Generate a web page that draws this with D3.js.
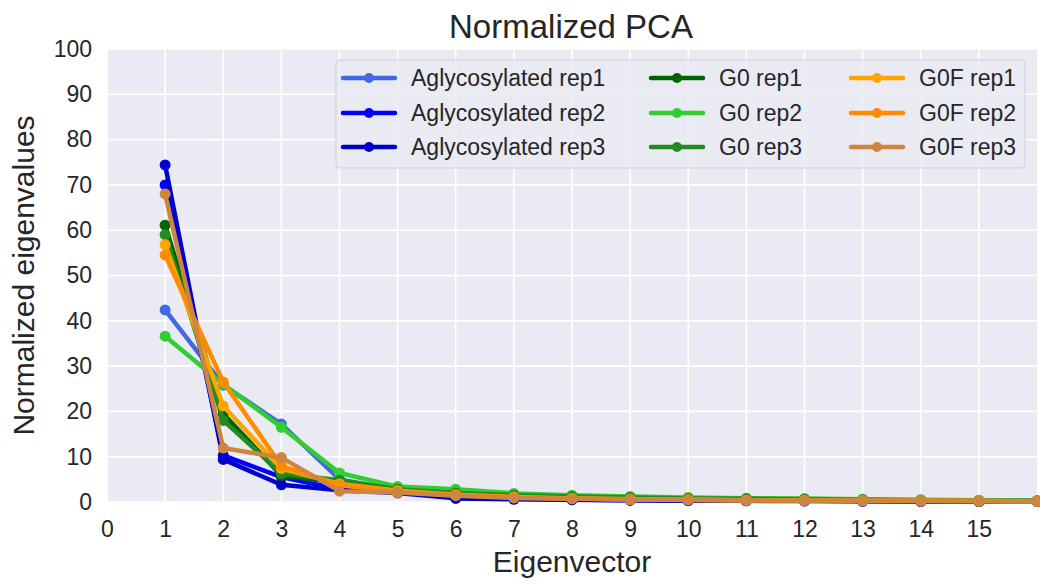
<!DOCTYPE html>
<html lang="en">
  <head>
    <meta charset="UTF-8" />
    <title>Normalized PCA</title>
    <style>
      html, body { margin: 0; padding: 0; background: #fff; }
      text { font-family: "Liberation Sans", Arial, sans-serif; fill: #262626; }
    </style>
  </head>
  <body>
    <svg id="chart" width="1040" height="586"></svg>
    <script src="https://d3js.org/d3.v7.min.js"></script>
    <script>
      // eigenvector index
      const eigenvectors = [1, 2, 3, 4, 5, 6, 7, 8, 9, 10, 11, 12, 13, 14, 15, 16];

      const aglyRep1 = [42.4, 25.8, 17.2, 5.0, 2.6, 1.6, 1.0, 0.8, 0.6, 0.5, 0.4, 0.35, 0.3, 0.25, 0.2, 0.15];
      const aglyRep2 = [70.0, 10.3, 5.5, 2.8, 2.2, 1.0, 0.7, 0.5, 0.4, 0.35, 0.3, 0.25, 0.2, 0.15, 0.1, 0.1];
      const aglyRep3 = [74.4, 9.4, 3.8, 2.6, 2.0, 0.8, 0.6, 0.5, 0.4, 0.3, 0.25, 0.2, 0.15, 0.1, 0.1, 0.1];
      const g0Rep1 = [61.1, 19.5, 5.8, 4.3, 2.6, 1.8, 1.2, 1.0, 0.8, 0.7, 0.6, 0.5, 0.4, 0.35, 0.3, 0.2];
      const g0Rep2 = [36.6, 26.0, 16.5, 6.4, 3.4, 2.8, 1.9, 1.5, 1.2, 1.0, 0.85, 0.75, 0.6, 0.5, 0.4, 0.3];
      const g0Rep3 = [59.0, 18.0, 6.3, 4.8, 2.8, 2.0, 1.5, 1.2, 1.0, 0.8, 0.7, 0.6, 0.5, 0.4, 0.3, 0.25];
      const g0fRep1 = [56.8, 21.2, 7.4, 4.0, 2.5, 1.6, 1.1, 0.8, 0.6, 0.5, 0.4, 0.35, 0.3, 0.25, 0.2, 0.15];
      const g0fRep2 = [54.5, 26.5, 8.0, 3.7, 2.3, 1.5, 1.0, 0.8, 0.6, 0.5, 0.4, 0.35, 0.3, 0.25, 0.2, 0.15];
      const g0fRep3 = [68.0, 11.9, 9.8, 2.4, 2.1, 1.4, 0.9, 0.7, 0.55, 0.45, 0.4, 0.3, 0.25, 0.2, 0.2, 0.15];

      const seriesNames = [
        "Aglycosylated rep1", "Aglycosylated rep2", "Aglycosylated rep3",
        "G0 rep1", "G0 rep2", "G0 rep3",
        "G0F rep1", "G0F rep2", "G0F rep3",
      ];
      const seriesValues = [aglyRep1, aglyRep2, aglyRep3, g0Rep1, g0Rep2, g0Rep3, g0fRep1, g0fRep2, g0fRep3];
      const seriesColors = [
        "royalblue", "blue", "mediumblue",
        "darkgreen", "limegreen", "forestgreen",
        "orange", "darkorange", "peru",
      ];

      const xTicks = d3.range(0, 16);
      const yTicks = d3.range(0, 101, 10);

      const svg = d3.select("#chart");
      const margin = { left: 107, right: 3, top: 49, bottom: 84 };
      const width = 1040, height = 586;

      const x = d3.scaleLinear().domain([0, 16]).range([margin.left, width - margin.right]);
      const y = d3.scaleLinear().domain([0, 100]).range([height - margin.bottom, margin.top]);

      // axes background
      svg.append("rect")
        .attr("x", margin.left)
        .attr("y", margin.top)
        .attr("width", width - margin.left - margin.right)
        .attr("height", height - margin.top - margin.bottom)
        .attr("fill", "#eaeaf2");

      // grid
      const grid = svg.append("g").attr("stroke", "#fff").attr("stroke-width", 1.6);
      grid.selectAll(".vx").data(xTicks).enter().append("line")
        .attr("x1", d => x(d)).attr("x2", d => x(d))
        .attr("y1", y(0)).attr("y2", y(100));
      grid.selectAll(".hy").data(yTicks).enter().append("line")
        .attr("y1", d => y(d)).attr("y2", d => y(d))
        .attr("x1", x(0)).attr("x2", x(16));

      // tick labels via axes
      const xAxis = svg.append("g")
        .attr("transform", `translate(0,${y(0)})`)
        .call(d3.axisBottom(x).tickValues(xTicks).tickSize(0).tickPadding(19));
      const yAxis = svg.append("g")
        .attr("transform", `translate(${x(0)},0)`)
        .call(d3.axisLeft(y).tickValues(yTicks).tickSize(0).tickPadding(15));
      [xAxis, yAxis].forEach(a => {
        a.select(".domain").remove();
        a.selectAll("text").attr("font-size", 23).attr("fill", "#262626")
          .style("font-family", "'Liberation Sans', Arial, sans-serif");
      });

      // lines
      const line = d3.line().x((d, i) => x(eigenvectors[i])).y(d => y(d));
      const plot = svg.append("g");
      seriesValues.forEach((vals, s) => {
        const g = plot.append("g");
        g.append("path")
          .attr("d", line(vals))
          .attr("fill", "none")
          .attr("stroke", seriesColors[s])
          .attr("stroke-width", 4.5)
          .attr("stroke-linejoin", "round")
          .attr("stroke-linecap", "round");
        g.selectAll("circle").data(vals).enter().append("circle")
          .attr("cx", (d, i) => x(eigenvectors[i]))
          .attr("cy", d => y(d))
          .attr("r", 5.5)
          .attr("fill", seriesColors[s]);
      });

      // title and axis labels
      svg.append("text")
        .attr("x", 571).attr("y", 38)
        .attr("text-anchor", "middle").attr("font-size", 33)
        .text("Normalized PCA");
      svg.append("text")
        .attr("x", 572).attr("y", 572)
        .attr("text-anchor", "middle").attr("font-size", 30)
        .text("Eigenvector");
      svg.append("text")
        .attr("transform", `translate(34,${(y(0) + y(100)) / 2}) rotate(-90)`)
        .attr("text-anchor", "middle").attr("font-size", 30)
        .text("Normalized eigenvalues");

      // legend
      const legend = svg.append("g");
      legend.append("rect")
        .attr("x", 336).attr("y", 60).attr("width", 689).attr("height", 108)
        .attr("rx", 4)
        .attr("fill", "#eaeaf2").attr("fill-opacity", 0.8)
        .attr("stroke", "#cfcfd6").attr("stroke-width", 1);
      const colX = [343, 651, 851];
      const rowY = [78, 113, 147];
      seriesNames.forEach((name, i) => {
        const cx = colX[Math.floor(i / 3)], cy = rowY[i % 3];
        legend.append("line")
          .attr("x1", cx).attr("x2", cx + 52).attr("y1", cy).attr("y2", cy)
          .attr("stroke", seriesColors[i]).attr("stroke-width", 4.5)
          .attr("stroke-linecap", "round");
        legend.append("circle")
          .attr("cx", cx + 26).attr("cy", cy).attr("r", 5)
          .attr("fill", seriesColors[i]);
        legend.append("text")
          .attr("x", cx + 68).attr("y", cy + 8)
          .attr("font-size", 23)
          .text(name);
      });
    </script>
  </body>
</html>
